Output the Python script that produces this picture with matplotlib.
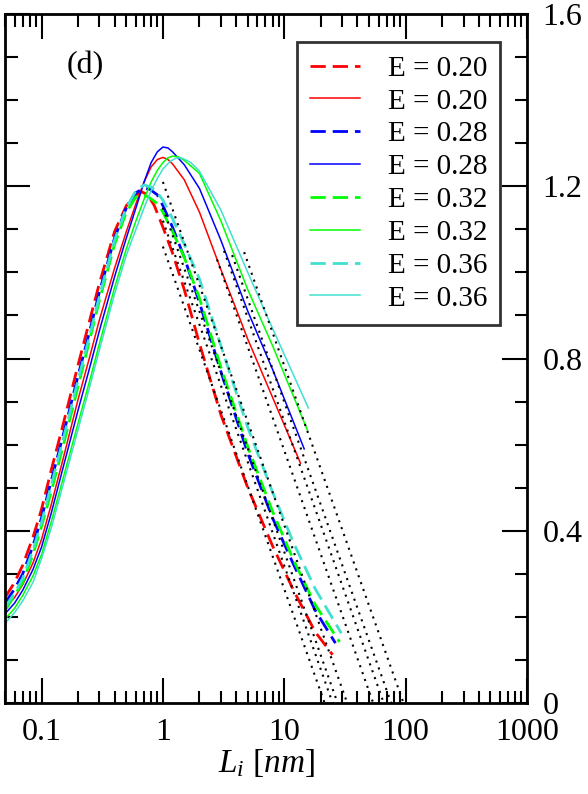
import matplotlib
matplotlib.use("Agg")
import matplotlib.pyplot as plt
from matplotlib.ticker import LogLocator, MultipleLocator, NullFormatter

plt.rcParams['font.family'] = ['Liberation Serif', 'DejaVu Serif']
plt.rcParams['mathtext.fontset'] = 'custom'
plt.rcParams['mathtext.rm'] = 'Liberation Serif'
plt.rcParams['mathtext.it'] = 'Liberation Serif:italic'

# Size distributions, L_i in nm
# dashed curves
x_d20 = [0.05, 0.06, 0.07, 0.085, 0.1, 0.12, 0.15, 0.2, 0.25, 0.3, 0.4, 0.5, 0.6, 0.67, 0.75, 0.85,
         1.0, 1.2, 1.5, 2, 3, 5, 8, 12, 18, 25]
y_d20 = [0.245, 0.28, 0.32, 0.385, 0.45, 0.54, 0.645, 0.785, 0.89, 0.975, 1.095, 1.155, 1.18, 1.187, 1.18, 1.155,
         1.105, 1.045, 0.96, 0.835, 0.67, 0.50, 0.365, 0.26, 0.165, 0.112]
x_d28 = [0.05, 0.06, 0.07, 0.085, 0.1, 0.12, 0.15, 0.2, 0.25, 0.3, 0.4, 0.5, 0.6, 0.7, 0.78, 0.9,
         1.0, 1.2, 1.5, 2, 3, 5, 8, 12, 18, 26.4]
y_d28 = [0.232, 0.265, 0.30, 0.365, 0.43, 0.515, 0.62, 0.76, 0.865, 0.955, 1.08, 1.15, 1.185, 1.196, 1.193, 1.18,
         1.155, 1.105, 1.035, 0.93, 0.77, 0.58, 0.43, 0.32, 0.215, 0.139]
x_d32 = [0.05, 0.06, 0.07, 0.085, 0.1, 0.12, 0.15, 0.2, 0.25, 0.3, 0.4, 0.5, 0.6, 0.66, 0.75, 0.9,
         1.0, 1.2, 1.5, 2, 3, 5, 8, 12, 18, 28.5]
y_d32 = [0.215, 0.25, 0.28, 0.345, 0.41, 0.49, 0.595, 0.735, 0.845, 0.935, 1.065, 1.14, 1.175, 1.18, 1.176, 1.16,
         1.14, 1.095, 1.035, 0.94, 0.78, 0.595, 0.445, 0.33, 0.228, 0.142]
x_d36 = [0.05, 0.06, 0.07, 0.085, 0.1, 0.12, 0.15, 0.2, 0.25, 0.3, 0.4, 0.5, 0.6, 0.7, 0.8, 0.9,
         1.0, 1.2, 1.5, 2, 3, 5, 8, 12, 18, 29.5]
y_d36 = [0.222, 0.255, 0.29, 0.355, 0.42, 0.505, 0.61, 0.75, 0.855, 0.945, 1.075, 1.15, 1.19, 1.203, 1.198, 1.185,
         1.168, 1.125, 1.065, 0.985, 0.83, 0.64, 0.49, 0.37, 0.265, 0.162]

# solid curves
x_s20 = [0.05, 0.06, 0.07, 0.085, 0.1, 0.12, 0.15, 0.2, 0.25, 0.3, 0.4, 0.5, 0.6, 0.7, 0.8, 0.9,
         1.0, 1.1, 1.2, 1.5, 2, 3, 5, 8, 13.6]
y_s20 = [0.22, 0.245, 0.275, 0.325, 0.38, 0.46, 0.565, 0.705, 0.805, 0.89, 1.01, 1.095, 1.16, 1.21, 1.245, 1.262,
         1.267, 1.262, 1.252, 1.215, 1.14, 1.007, 0.845, 0.71, 0.557]
x_s28 = [0.05, 0.06, 0.07, 0.085, 0.1, 0.12, 0.15, 0.2, 0.25, 0.3, 0.4, 0.5, 0.6, 0.7, 0.8, 0.9,
         1.0, 1.1, 1.2, 1.5, 2, 3, 5, 8, 14.6]
y_s28 = [0.207, 0.232, 0.262, 0.31, 0.362, 0.44, 0.545, 0.68, 0.78, 0.865, 0.99, 1.08, 1.15, 1.21, 1.255, 1.28,
         1.291, 1.289, 1.28, 1.25, 1.195, 1.075, 0.91, 0.775, 0.59]
x_s32 = [0.05, 0.06, 0.07, 0.085, 0.1, 0.12, 0.15, 0.2, 0.25, 0.3, 0.4, 0.5, 0.6, 0.7, 0.8, 0.9,
         1.0, 1.1, 1.2, 1.35, 1.5, 2, 3, 5, 8, 15.5]
y_s32 = [0.195, 0.22, 0.25, 0.295, 0.345, 0.42, 0.52, 0.65, 0.75, 0.835, 0.965, 1.055, 1.12, 1.17, 1.21, 1.237,
         1.255, 1.266, 1.27, 1.268, 1.26, 1.23, 1.12, 0.96, 0.83, 0.634]
x_s36 = [0.05, 0.06, 0.07, 0.085, 0.1, 0.12, 0.15, 0.2, 0.25, 0.3, 0.4, 0.5, 0.6, 0.7, 0.8, 0.9,
         1.0, 1.15, 1.3, 1.45, 1.7, 2, 3, 5, 8, 15.8]
y_s36 = [0.185, 0.21, 0.237, 0.28, 0.335, 0.405, 0.505, 0.635, 0.735, 0.82, 0.95, 1.04, 1.10, 1.15, 1.19, 1.218,
         1.24, 1.258, 1.266, 1.265, 1.255, 1.235, 1.145, 1.0, 0.87, 0.685]

# straight (semilog) fits of the tails: start point and zero crossing
fit_x0 = [1.0, 1.0, 1.0, 1.0, 2.79, 3.19, 3.72, 4.67]
fit_y0 = [1.06, 1.12, 1.15, 1.21, 1.03, 1.05, 1.04, 1.047]
fit_x1 = [21.5, 25.0, 27.5, 33.0, 54.0, 66.0, 76.0, 96.0]

labels = ['E = 0.20', 'E = 0.20', 'E = 0.28', 'E = 0.28',
          'E = 0.32', 'E = 0.32', 'E = 0.36', 'E = 0.36']
colors = ['#ff0000', '#0000ff', '#00ff00', '#40e0d0']

fig = plt.figure(figsize=(5.88, 7.94), dpi=100)
ax = fig.add_axes([5/588, 91/794, 522/588, 689/794])

dashed = [(x_d20, y_d20), (x_d28, y_d28), (x_d32, y_d32), (x_d36, y_d36)]
solid = [(x_s20, y_s20), (x_s28, y_s28), (x_s32, y_s32), (x_s36, y_s36)]

for i in range(4):
    ax.plot(dashed[i][0], dashed[i][1], color=colors[i], lw=2.0,
            dashes=(5.5, 2.5), label=labels[2*i])
    ax.plot(solid[i][0], solid[i][1], color=colors[i], lw=1.1,
            label=labels[2*i+1])

for i in range(len(fit_x0)):
    ax.plot([fit_x0[i], fit_x1[i]], [fit_y0[i], 0], color='black', lw=1.5,
            linestyle=(0, (1, 2.5)))

ax.set_xscale('log')
ax.set_xlim(0.05, 1000)
ax.set_ylim(0, 1.6)

ax.set_xticks([0.1, 1, 10, 100, 1000], labels=['0.1', '1', '10', '100', '1000'])
ax.xaxis.set_minor_locator(LogLocator(base=10, subs=range(2, 10), numticks=20))
ax.xaxis.set_minor_formatter(NullFormatter())
ax.yaxis.set_minor_locator(MultipleLocator(0.1))
ax.set_yticks([0, 0.4, 0.8, 1.2, 1.6], labels=['0', '0.4', '0.8', '1.2', '1.6'])
ax.yaxis.tick_right()

ax.tick_params(which='both', direction='in', top=True, bottom=True,
               left=True, right=True, width=1.5, labelsize=23)
ax.tick_params(which='major', length=18)
ax.tick_params(which='minor', length=9)
ax.tick_params(axis='y', pad=11)
ax.tick_params(axis='x', pad=11)
for s in ax.spines.values():
    s.set_linewidth(2)

ax.set_xlabel(r'$L_i\ [nm]$', fontsize=24, labelpad=0)
ax.text(0.118, 0.925, '(d)', transform=ax.transAxes, fontsize=23,
        ha='left', va='center')

leg = ax.legend(loc='upper left', bbox_to_anchor=(0.559, 0.959), fontsize=21,
                frameon=True, fancybox=False, handlelength=1.7,
                handletextpad=0.96, labelspacing=0.22, borderpad=0.45,
                borderaxespad=0)
leg.get_frame().set_edgecolor('black')
leg.get_frame().set_linewidth(2)

fig.savefig('out.png', dpi=100)
